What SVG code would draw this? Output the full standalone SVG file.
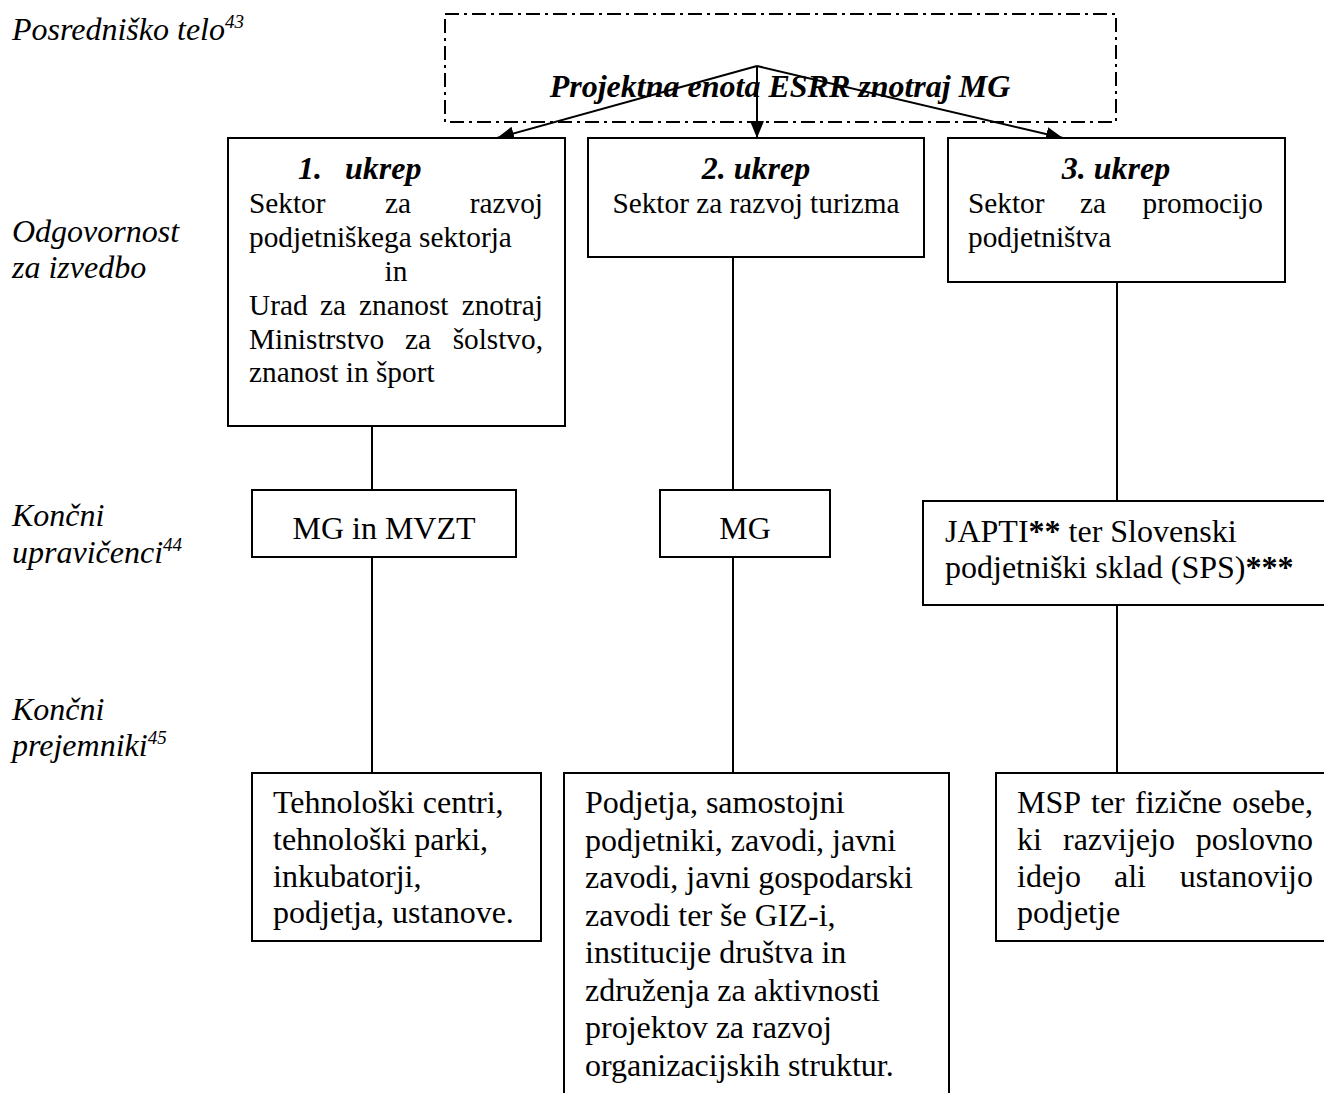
<svg xmlns="http://www.w3.org/2000/svg" width="1324" height="1093" viewBox="0 0 1324 1093">
<style>
text{font-family:"Liberation Serif","Times New Roman",serif;fill:#000}
.lab{font-size:32px;font-style:italic}
.sup{font-size:19px;font-style:italic}
.t11{font-size:29.3px}
.t12{font-size:32px}
.hd{font-size:32px;font-weight:bold;font-style:italic}
.bx{fill:#fff;stroke:#000;stroke-width:2}
.ln{stroke:#000;stroke-width:2;fill:none}
.b{font-weight:bold}
</style>
<defs>
<marker id="ah" markerUnits="userSpaceOnUse" markerWidth="18" markerHeight="14" refX="17" refY="7" orient="auto">
<path d="M0,0 L17,7 L0,14 z" fill="#000"/>
</marker>
</defs>
<rect width="1324" height="1093" fill="#fff"/>

<g id="labels">
<text class="lab" x="12" y="40">Posredniško telo<tspan class="sup" dy="-12">43</tspan></text>
<text class="lab" x="12" y="242">Odgovornost</text>
<text class="lab" x="12" y="278">za izvedbo</text>
<text class="lab" x="12" y="526">Končni</text>
<text class="lab" x="12" y="563">upravičenci<tspan class="sup" dy="-12">44</tspan></text>
<text class="lab" x="12" y="720">Končni</text>
<text class="lab" x="12" y="756">prejemniki<tspan class="sup" dy="-12">45</tspan></text>
</g>

<g id="connectors">
<line class="ln" x1="372" y1="426" x2="372" y2="490"/>
<line class="ln" x1="372" y1="557" x2="372" y2="773"/>
<line class="ln" x1="733" y1="257" x2="733" y2="490"/>
<line class="ln" x1="733" y1="557" x2="733" y2="773"/>
<line class="ln" x1="1117" y1="282" x2="1117" y2="501"/>
<line class="ln" x1="1117" y1="605" x2="1117" y2="773"/>
</g>

<g id="node-pt">
<rect x="445" y="14" width="671" height="108" fill="none" stroke="#000" stroke-width="2" stroke-dasharray="14 5 3 5"/>
<text class="hd" x="780" y="97" text-anchor="middle">Projektna enota ESRR znotraj MG</text>
</g>

<g id="arrows">
<line class="ln" x1="757" y1="66" x2="497" y2="138" marker-end="url(#ah)"/>
<line class="ln" x1="757" y1="66" x2="757" y2="138" marker-end="url(#ah)"/>
<line class="ln" x1="757" y1="66" x2="1063" y2="138" marker-end="url(#ah)"/>
</g>

<g id="node-u1">
<rect class="bx" x="228" y="138" width="337" height="288"/>
<text class="hd" x="298" y="179">1.</text>
<text class="hd" x="345" y="179">ukrep</text>
<text class="t11" y="213"><tspan x="249">Sektor</tspan><tspan x="385">za</tspan><tspan x="543" text-anchor="end">razvoj</tspan></text>
<text class="t11" x="249" y="247">podjetniškega sektorja</text>
<text class="t11" x="396" y="281" text-anchor="middle">in</text>
<text class="t11" y="315"><tspan x="249">Urad</tspan><tspan x="320">za</tspan><tspan x="359">znanost</tspan><tspan x="543" text-anchor="end">znotraj</tspan></text>
<text class="t11" y="349"><tspan x="249">Ministrstvo</tspan><tspan x="405">za</tspan><tspan x="543" text-anchor="end">šolstvo,</tspan></text>
<text class="t11" x="249" y="382">znanost in šport</text>
</g>

<g id="node-u2">
<rect class="bx" x="588" y="138" width="336" height="119"/>
<text class="hd" x="756" y="179" text-anchor="middle">2. ukrep</text>
<text class="t11" x="756" y="213" text-anchor="middle">Sektor za razvoj turizma</text>
</g>

<g id="node-u3">
<rect class="bx" x="948" y="138" width="337" height="144"/>
<text class="hd" x="1116" y="179" text-anchor="middle">3. ukrep</text>
<text class="t11" y="213"><tspan x="968">Sektor</tspan><tspan x="1080">za</tspan><tspan x="1263" text-anchor="end">promocijo</tspan></text>
<text class="t11" x="968" y="247">podjetništva</text>
</g>

<g id="node-mg-mvzt">
<rect class="bx" x="252" y="490" width="264" height="67"/>
<text class="t12" x="384" y="539" text-anchor="middle">MG in MVZT</text>
</g>

<g id="node-mg">
<rect class="bx" x="660" y="490" width="170" height="67"/>
<text class="t12" x="745" y="539" text-anchor="middle">MG</text>
</g>

<g id="node-japti">
<rect class="bx" x="923" y="501" width="410" height="104"/>
<text class="t12" x="945" y="542">JAPTI<tspan class="b">**</tspan> ter Slovenski</text>
<text class="t12" x="945" y="578">podjetniški sklad (SPS)<tspan class="b">***</tspan></text>
</g>

<g id="node-p1">
<rect class="bx" x="252" y="773" width="289" height="168"/>
<text class="t12" x="273" y="813">Tehnološki centri,</text>
<text class="t12" x="273" y="850">tehnološki parki,</text>
<text class="t12" x="273" y="887">inkubatorji,</text>
<text class="t12" x="273" y="923">podjetja, ustanove.</text>
</g>

<g id="node-p2">
<rect class="bx" x="564" y="773" width="385" height="340"/>
<text class="t12" x="585" y="813">Podjetja, samostojni</text>
<text class="t12" x="585" y="851">podjetniki, zavodi, javni</text>
<text class="t12" x="585" y="888">zavodi, javni gospodarski</text>
<text class="t12" x="585" y="926">zavodi ter še GIZ-i,</text>
<text class="t12" x="585" y="963">institucije društva in</text>
<text class="t12" x="585" y="1001">združenja za aktivnosti</text>
<text class="t12" x="585" y="1038">projektov za razvoj</text>
<text class="t12" x="585" y="1076">organizacijskih struktur.</text>
</g>

<g id="node-p3">
<rect class="bx" x="996" y="773" width="340" height="168"/>
<text class="t12" y="813"><tspan x="1017">MSP</tspan><tspan x="1091">ter</tspan><tspan x="1135">fizične</tspan><tspan x="1313" text-anchor="end">osebe,</tspan></text>
<text class="t12" y="850"><tspan x="1017">ki</tspan><tspan x="1063">razvijejo</tspan><tspan x="1313" text-anchor="end">poslovno</tspan></text>
<text class="t12" y="887"><tspan x="1017">idejo</tspan><tspan x="1114">ali</tspan><tspan x="1313" text-anchor="end">ustanovijo</tspan></text>
<text class="t12" x="1017" y="923">podjetje</text>
</g>
</svg>
